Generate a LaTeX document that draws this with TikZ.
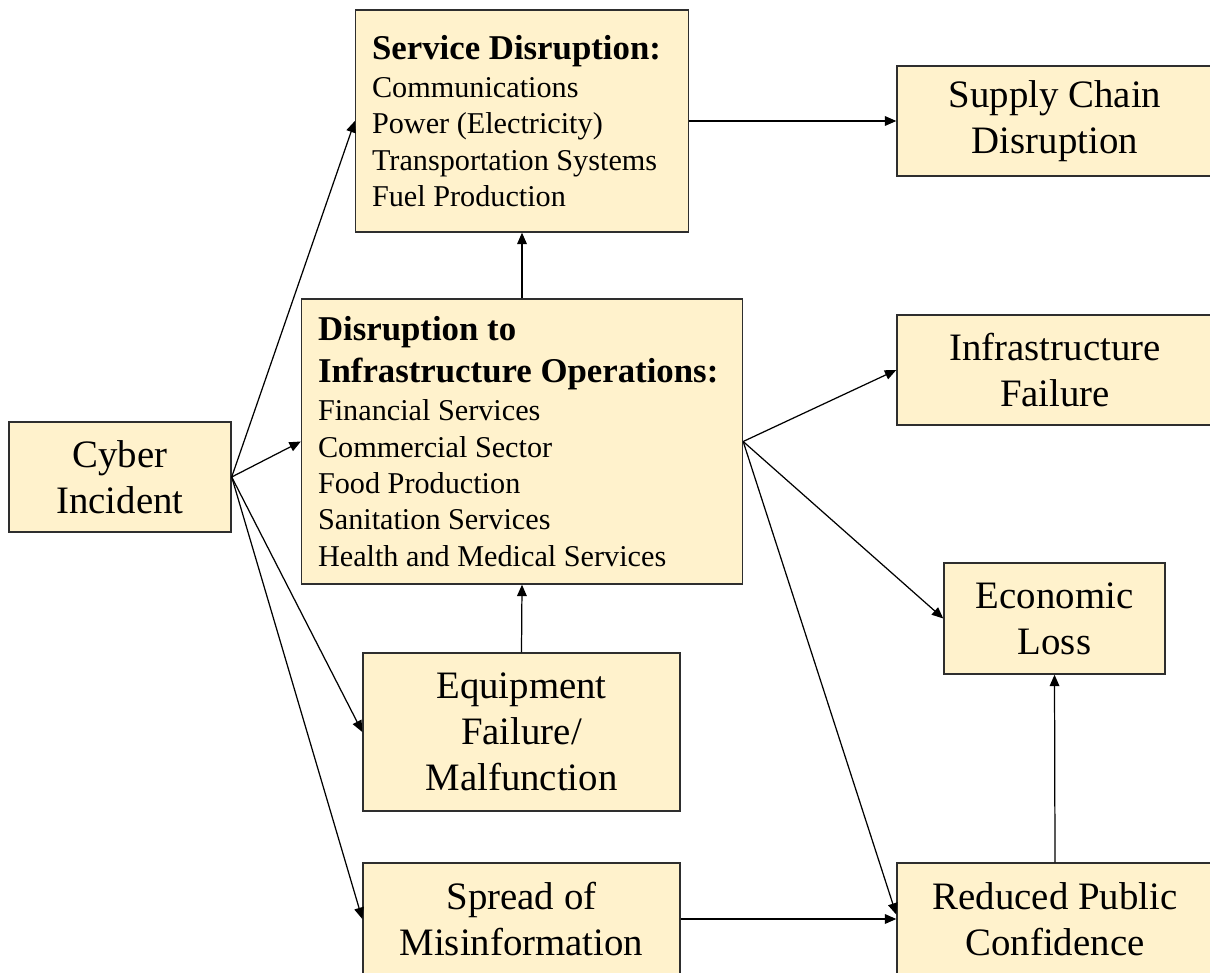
\documentclass[tikz,border=0pt]{standalone}
\usepackage{fontspec}
\setmainfont{Liberation Serif}
\usetikzlibrary{arrows.meta}

\definecolor{boxfill}{HTML}{FFF2CC}
\definecolor{boxline}{HTML}{2E2E2E}

\tikzset{
  box/.style={draw=boxline, fill=boxfill, line width=0.8pt, inner sep=0pt,
    align=center, font=\fontsize{22.1}{26.1}\selectfont},
  listbox/.style={box, align=flush left, inner xsep=0.33cm},
  arr/.style={-{Triangle[length=6.5pt,width=5.5pt]}, line width=0.7pt},
}
\newcommand{\hdr}{\fontsize{19.8}{23.8}\selectfont\bfseries}
\newcommand{\lst}{\fontsize{17.2}{20.7}\selectfont}

\begin{document}
\begin{tikzpicture}[x=0.02cm, y=-0.02cm]

  \useasboundingbox (0,0) rectangle (1210,973);

	%list boxes
  \node[listbox, text width=6cm, minimum height=4.44cm] (service) at (522,121)
    {{\hdr Service Disruption:\par}\vspace{1pt}\lst Communications\\ Power (Electricity)\\ Transportation Systems\\ Fuel Production\par};

  \node[listbox, text width=8.16cm, minimum height=5.7cm] (infraops) at (522,441.5)
    {{\hdr Disruption to\\ Infrastructure Operations:\par}\vspace{1pt}\lst Financial Services\\ Commercial Sector\\ Food Production\\ Sanitation Services\\ Health and Medical Services\par};

	%plain boxes
    \foreach \name/\x/\y/\w/\h/\txt in {cyber/120/477/222/110/{Cyber\\Incident},
        supply/1055/121/316/110/{Supply Chain\\Disruption},
        infrafail/1055/370/316/110/{Infrastructure\\Failure},
        econ/1054.5/618.5/221/111/{Economic\\Loss},
        equip/521.5/732/317/158/{Equipment\\Failure/\\Malfunction},
        spread/521.5/919/317/112/{Spread of\\Misinformation},
        public/1055/919/316/112/{Reduced Public\\Confidence}}{
        \node[box, minimum width=\w*0.02cm, minimum height=\h*0.02cm] (\name) at (\x,\y) {\txt};
    }

	%arrows out of the incident
    \foreach \t in {service, infraops, equip, spread}{
        \draw[arr] (cyber.east) -- (\t.west);
    }

	%arrows out of infrastructure operations
    \foreach \t in {infrafail, econ}{
        \draw[arr] (infraops.east) -- (\t.west);
    }
  \draw[arr] (infraops.east) -- ([yshift=2.5pt]public.west);

  \draw[arr] (service.east) -- (supply.west);
  \draw[arr] (infraops.north) -- (service.south);
  \draw[arr] (equip.north) -- (infraops.south);
  \draw[arr] (spread.east) -- (public.west);
  \draw[arr] (public.north) -- (econ.south);

\end{tikzpicture}
\end{document}
